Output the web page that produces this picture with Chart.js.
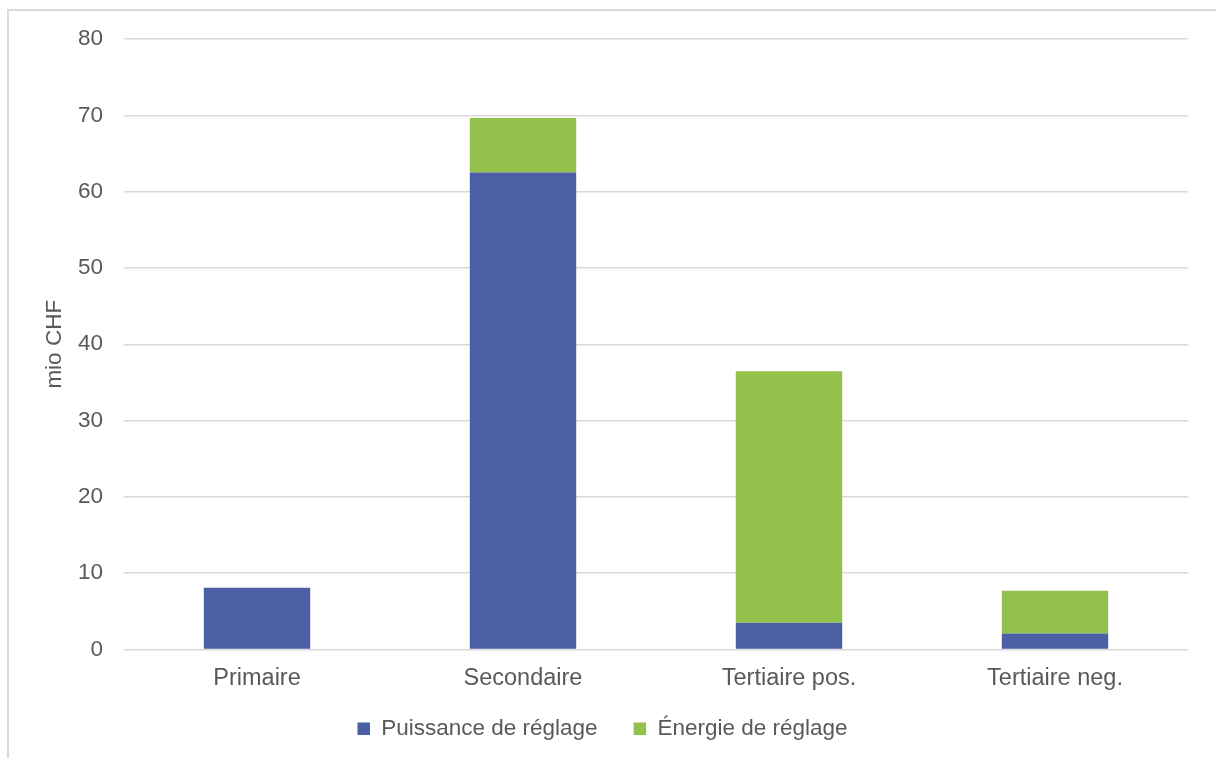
<!DOCTYPE html>
<html lang="fr">
<head>
<meta charset="utf-8">
<title>Coûts de réglage</title>
<script src="https://cdn.jsdelivr.net/npm/chart.js@4.4.1/dist/chart.umd.min.js"></script>
<style>
  html, body { margin: 0; padding: 0; background: #ffffff; }
  #wrap { position: relative; width: 1216px; height: 758px; }
</style>
</head>
<body>
<div id="wrap"><canvas id="chart" width="1216" height="758"></canvas></div>
<script>
// Coûts des prestations de réglage, en millions de CHF
const categories = ['Primaire', 'Secondaire', 'Tertiaire pos.', 'Tertiaire neg.'];
const puissanceReglage = [8.1, 62.5, 3.5, 2.1];
const energieReglage = [0, 7.15, 32.95, 5.6];
const seriesNames = ['Puissance de réglage', 'Énergie de réglage'];
const yTicks = [0, 10, 20, 30, 40, 50, 60, 70, 80];
const yTitle = 'mio CHF';

const textColor = '#595959';
const gridColor = '#d9d9d9';
const FONT = '"Liberation Sans", Arial, sans-serif';

// Light frame around the chart
const framePlugin = {
  id: 'frame',
  beforeDraw(chart) {
    const ctx = chart.ctx;
    ctx.save();
    ctx.strokeStyle = '#d9d9d9';
    ctx.lineWidth = 2;
    ctx.beginPath();
    ctx.moveTo(8, 760);
    ctx.lineTo(8, 10);
    ctx.lineTo(1220, 10);
    ctx.stroke();
    ctx.restore();
  }
};

// Pull the legend a little closer to the category labels
const LEGEND_LIFT = 10;
const legendLiftPlugin = {
  id: 'legendLift',
  afterLayout(chart) {
    if (chart.legend) {
      chart.legend.top -= LEGEND_LIFT;
      chart.legend.bottom -= LEGEND_LIFT;
    }
  }
};

new Chart(document.getElementById('chart'), {
  type: 'bar',
  data: {
    labels: categories,
    datasets: [
      { label: seriesNames[0], data: puissanceReglage, backgroundColor: '#4a5fa4', borderWidth: 0 },
      { label: seriesNames[1], data: energieReglage, backgroundColor: '#92c24c', borderWidth: 0 }
    ]
  },
  options: {
    responsive: false,
    animation: false,
    devicePixelRatio: 1,
    layout: { padding: { left: 17, right: 28, top: 39, bottom: -2 } },
    datasets: { bar: { categoryPercentage: 1.0, barPercentage: 0.4 } },
    plugins: {
      tooltip: { enabled: false },
      legend: {
        position: 'bottom',
        labels: {
          color: textColor,
          font: { family: FONT, size: 22.5 },
          boxWidth: 12.5,
          boxHeight: 12.5,
          padding: 36
        }
      }
    },
    scales: {
      x: {
        stacked: true,
        grid: { display: false, drawTicks: false },
        border: { display: false },
        ticks: { color: textColor, font: { family: FONT, size: 23.5 }, padding: 15, maxRotation: 0 },
        afterFit(scale) { scale.height = 42; }
      },
      y: {
        stacked: true,
        min: 0,
        max: 80,
        afterBuildTicks(scale) { scale.ticks = yTicks.map(v => ({ value: v })); },
        grid: { color: gridColor, lineWidth: 1.5, drawTicks: false },
        border: { display: false },
        ticks: { color: textColor, font: { family: FONT, size: 22.5 }, padding: 21 },
        title: {
          display: true,
          text: yTitle,
          color: textColor,
          font: { family: FONT, size: 22.5 },
          padding: { top: 24, bottom: 0 }
        },
        afterFit(scale) { scale.width = 107; }
      }
    }
  },
  plugins: [framePlugin, legendLiftPlugin]
});
</script>
</body>
</html>
